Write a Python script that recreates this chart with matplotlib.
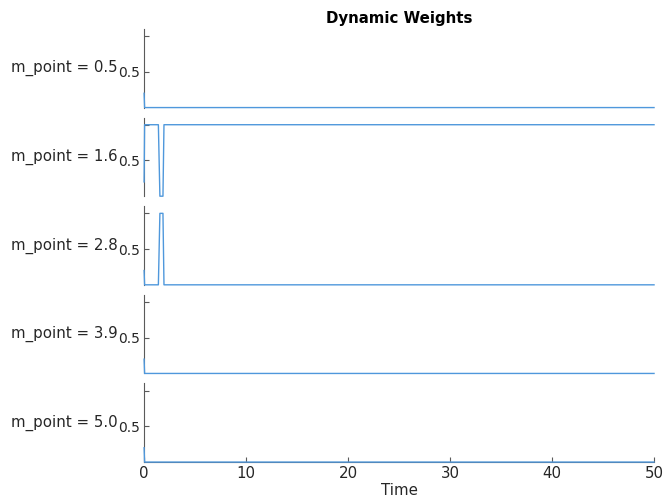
import numpy as np
import matplotlib
matplotlib.use("Agg")
import matplotlib.pyplot as plt

# breakpoints of the weight curves (time, weight)
m_points = [0.5, 1.6, 2.8, 3.9, 5.0]
t = [0, 0.05, 1.4, 1.55, 1.85, 1.95, 50]
w1 = [0.2, 0, 0, 0, 0, 0, 0]
w2 = [0.2, 1, 1, 0, 0, 1, 1]
w3 = [0.2, 0, 0, 1, 1, 0, 0]
w4 = [0.2, 0, 0, 0, 0, 0, 0]
w5 = [0.2, 0, 0, 0, 0, 0, 0]
weights = [w1, w2, w3, w4, w5]

line_col = '#4f98dc'
spine_col = '#5a5a5a'
text_col = '#262626'
fs = 10.8

fig = plt.figure(figsize=(6.64, 4.99), dpi=100)
left, right = 0.217, 0.985
top, bottom = 0.942, 0.074
gap = 10 / 499
h = (top - bottom - 4 * gap) / 5

axes = []
for i, (mp, w) in enumerate(zip(m_points, weights)):
    y0 = top - (i + 1) * h - i * gap
    ax = fig.add_axes([left, y0, right - left, h])
    ax.plot(t, w, color=line_col, lw=1.0, clip_on=False, zorder=5)
    ax.set_xlim(0, 50)
    ax.set_ylim(0, 1.1)
    ax.set_yticks([0.5, 1])
    ax.set_yticklabels(['0.5', ''])
    ax.spines['top'].set_visible(False)
    ax.spines['right'].set_visible(False)
    ax.spines['left'].set_color(spine_col)
    ax.spines['bottom'].set_color(spine_col)
    ax.tick_params(colors=spine_col, labelcolor=text_col, labelsize=10,
                   length=3.5, direction='in', pad=3)
    ax.tick_params(axis='x', labelsize=fs)
    ax.set_ylabel('m_point = %.1f' % mp, rotation=0, ha='right', va='center',
                  fontsize=fs, color=text_col, labelpad=0)
    if i < 4:
        ax.spines['bottom'].set_visible(False)
        ax.set_xticks([])
    else:
        ax.set_xticks([0, 10, 20, 30, 40, 50])
        ax.set_xlabel('Time', fontsize=fs, color=text_col, labelpad=1)
    axes.append(ax)

axes[0].set_title('Dynamic Weights', fontsize=fs, fontweight='bold', pad=4)

fig.savefig('out.png', dpi=100)
